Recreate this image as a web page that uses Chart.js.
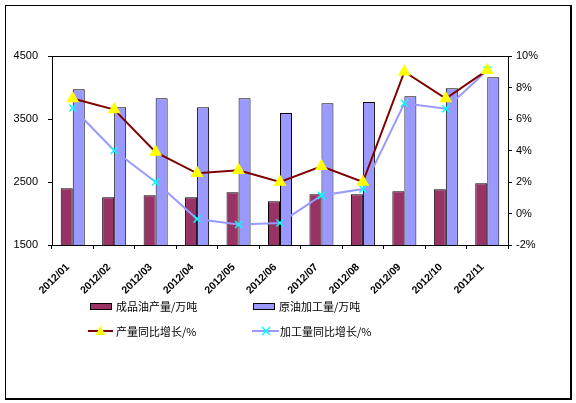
<!DOCTYPE html>
<html>
<head>
<meta charset="utf-8">
<script src="https://cdn.jsdelivr.net/npm/chart.js@4"></script>
<style>
  body { margin: 0; background: #fff; }
  #wrap { position: relative; width: 576px; height: 403px; overflow: hidden; }
  #frame { position: absolute; left: 5px; top: 5px; width: 564px; height: 392px;
           border-left: 1px solid #000; border-top: 1px solid #000;
           border-right: 2px solid #000; border-bottom: 2px solid #000; }
  canvas { position: absolute; left: 0; top: 0; }
  .lg { position: absolute; font: 11px "Noto Sans CJK SC", sans-serif; color: #000; line-height: 14px; white-space: nowrap; }
  .box { position: absolute; width: 20px; height: 5px; border: 1px solid #000; }
</style>
</head>
<body>
<div id="wrap">
  <div id="frame"></div>
  <canvas id="chart" width="576" height="403"></canvas>

  <div class="box" style="left:90px;top:303px;background:#993366"></div>
  <div class="lg" style="left:116px;top:299px">成品油产量/万吨</div>
  <div class="box" style="left:253px;top:303px;background:#9999FF"></div>
  <div class="lg" style="left:279px;top:299px">原油加工量/万吨</div>

  <svg style="position:absolute;left:88px;top:324px" width="26" height="14">
    <line x1="0" y1="7" x2="25" y2="7" stroke="#800000" stroke-width="2"/>
    <polygon points="12.5,2 17.5,11 7.5,11" fill="#FFFF00"/>
  </svg>
  <div class="lg" style="left:116px;top:324px">产量同比增长/%</div>
  <svg style="position:absolute;left:252px;top:324px" width="28" height="14">
    <line x1="0" y1="7" x2="27" y2="7" stroke="#9999FF" stroke-width="2"/>
    <line x1="10" y1="3" x2="18" y2="11" stroke="#00FFFF" stroke-width="1.5"/>
    <line x1="18" y1="3" x2="10" y2="11" stroke="#00FFFF" stroke-width="1.5"/>
  </svg>
  <div class="lg" style="left:280px;top:324px">加工量同比增长/%</div>
</div>

<script>
const months = ['2012/01', '2012/02', '2012/03', '2012/04', '2012/05', '2012/06', '2012/07', '2012/08', '2012/09', '2012/10', '2012/11'];
const productOutput = [2400, 2257, 2289, 2257, 2336, 2193, 2304, 2304, 2352, 2384, 2479];
const crudeProcessed = [3971, 3685, 3828, 3685, 3828, 3595, 3749, 3770, 3860, 3987, 4162];
const outputGrowth = [7.3, 6.6, 3.9, 2.55, 2.75, 2.0, 3.0, 2.0, 9.0, 7.3, 9.1];
const processedGrowth = [6.7, 4.0, 2.0, -0.35, -0.7, -0.6, 1.15, 1.55, 7.0, 6.65, 9.1];

// box around the plot area
const plotFrame = {
  id: 'plotFrame',
  beforeDatasetsDraw(chart) {
    const a = chart.chartArea;
    const c = chart.ctx;
    c.save();
    c.strokeStyle = '#000';
    c.lineWidth = 1;
    c.strokeRect(Math.round(a.left) + 0.5, Math.round(a.top) + 0.5, Math.round(a.right - a.left), Math.round(a.bottom - a.top));
    c.restore();
  }
};

const ctx = document.getElementById('chart');

const chart = new Chart(ctx, {
  type: 'bar',
  data: {
    labels: months,
    datasets: [
      {
        type: 'line',
        label: '产量同比增长/%',
        data: outputGrowth,
        yAxisID: 'y1',
        borderColor: '#800000',
        borderWidth: 2,
        tension: 0,
        pointStyle: 'triangle',
        pointRadius: 5.5,
        pointBackgroundColor: '#FFFF00',
        pointBorderColor: '#FFFF00',
        order: 0
      },
      {
        type: 'line',
        label: '加工量同比增长/%',
        data: processedGrowth,
        yAxisID: 'y1',
        borderColor: '#9999FF',
        borderWidth: 2,
        tension: 0,
        pointStyle: 'crossRot',
        pointRadius: 5,
        pointBorderColor: '#00FFFF',
        pointBorderWidth: 1.5,
        order: 1
      },
      {
        label: '成品油产量/万吨',
        data: productOutput,
        backgroundColor: '#993366',
        borderColor: '#000',
        borderWidth: 1,
        borderSkipped: 'bottom',
        inflateAmount: 0,
        order: 2
      },
      {
        label: '原油加工量/万吨',
        data: crudeProcessed,
        backgroundColor: '#9999FF',
        borderColor: '#000',
        borderWidth: 1,
        borderSkipped: 'bottom',
        inflateAmount: 0,
        order: 2
      }
    ]
  },
  plugins: [plotFrame],
  options: {
    responsive: false,
    animation: false,
    categoryPercentage: 0.58,
    barPercentage: 1.0,
    layout: { padding: { top: 56, left: 0, right: 0, bottom: 0 } },
    plugins: {
      legend: { display: false },
      tooltip: { enabled: false }
    },
    scales: {
      x: {
        afterFit: s => { s.height = 158; },
        grid: { drawOnChartArea: false, tickLength: 4, color: '#000', offset: true },
        border: { color: '#000' },
        ticks: {
          autoSkip: false,
          minRotation: 45,
          maxRotation: 45,
          padding: 12,
          labelOffset: -5,
          color: '#000',
          font: { family: 'Liberation Sans', size: 10.5, weight: 'bold' }
        }
      },
      y: {
        position: 'left',
        min: 1500,
        max: 4500,
        afterFit: s => { s.width = 52; },
        grid: { drawOnChartArea: false, tickLength: 4, color: '#000' },
        border: { color: '#000' },
        ticks: {
          stepSize: 1000,
          padding: 10,
          color: '#000',
          font: { family: 'Liberation Sans', size: 11 },
          callback: v => String(v)
        }
      },
      y1: {
        position: 'right',
        min: -2,
        max: 10,
        afterFit: s => { s.width = 68; },
        grid: { drawOnChartArea: false, tickLength: 4, color: '#000' },
        border: { color: '#000' },
        ticks: {
          stepSize: 2,
          padding: 4,
          color: '#000',
          font: { family: 'Liberation Sans', size: 11 },
          callback: v => v + '%'
        }
      }
    }
  }
});
</script>
</body>
</html>
